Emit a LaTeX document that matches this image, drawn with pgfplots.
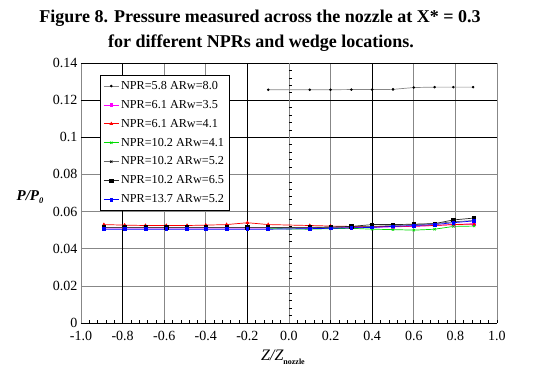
\documentclass[border=0pt]{standalone}
\usepackage{fontspec}
\setmainfont{Liberation Serif}
\usepackage{pgfplots}
\pgfplotsset{compat=1.18}
\definecolor{gridgray}{RGB}{135,135,135}
\definecolor{mag}{RGB}{255,0,255}
\definecolor{grn}{RGB}{0,220,0}
\begin{document}
\begin{tikzpicture}
\begin{axis}[
  name=ax, at={(0,0)}, anchor=south west,
  scale only axis, width=416pt, height=260pt,
  xmin=-1, xmax=1, ymin=0, ymax=0.14,
  axis lines*=left,
  x axis line style={black},
  y axis line style={gridgray},
  xtick={-1,-0.8,-0.6,-0.4,-0.2,0,0.2,0.4,0.6,0.8,1},
  xticklabels={-1.0,-0.8,-0.6,-0.4,-0.2,0.0,0.2,0.4,0.6,0.8,1.0},
  ytick={0,0.02,0.04,0.06,0.08,0.1,0.12,0.14},
  yticklabels={0,0.02,0.04,0.06,0.08,0.1,0.12,0.14},
  minor x tick num=4,
  tick align=inside,
  major tick length=3pt, minor tick length=3pt,
  xtick pos=left, ytick pos=left,
  ytick style={draw=none},
  tick style={black, line width=0.6pt},
  grid=major,
  major grid style={gridgray, line width=0.6pt},
  extra x ticks={-0.8,-0.2,0.4},
  extra x tick labels={},
  extra x tick style={grid=major, major grid style={black, line width=0.7pt}},
  extra y ticks={0.1,0.12,0.14},
  extra y tick labels={},
  extra y tick style={grid=major, major grid style={black, line width=0.7pt}},
  ticklabel style={font=\fontsize{14}{16}\selectfont},
  xticklabel style={yshift=-5pt},
  yticklabel style={xshift=0pt},
  legend style={at={(0.046,0.954)}, anchor=north west, draw=black, line width=0.6pt,
    font=\fontsize{12.2}{13}\selectfont, row sep=5.3pt, inner xsep=3pt, inner ysep=4pt,
    fill=white, cells={anchor=west}},
  legend image code/.code={\draw[#1] (0pt,0pt) -- (15pt,0pt); \draw[#1, mark repeat=2, mark phase=2] plot coordinates {(0pt,0pt) (7.5pt,0pt) (15pt,0pt)};},
]
\draw[gridgray, line width=0.6pt] (axis cs:0,0) -- (axis cs:0,0.14);
\pgfplotsinvokeforeach{0.004,0.008,0.012,0.016,0.024,0.028,0.032,0.036,0.044,0.048,0.052,0.056,0.064,0.068,0.072,0.076,0.084,0.088,0.092,0.096,0.104,0.108,0.112,0.116,0.124,0.128,0.132,0.136}{
  \draw[black, line width=0.6pt] (axis cs:0,#1) -- ++(3pt,0pt);
}
% NPR=5.8 ARw=8.0
\addplot[gridgray, line width=0.7pt, mark=*, mark size=0.9pt, mark options={black}] coordinates {
(-0.10,0.1256) (0.10,0.1256) (0.20,0.1256) (0.30,0.1257) (0.40,0.1257) (0.50,0.1258)
(0.60,0.1268) (0.70,0.1270) (0.79,0.1270) (0.885,0.1270)};
\addlegendentry{NPR=5.8 ARw=8.0}
% NPR=6.1 ARw=3.5
\addplot[mag, line width=0.7pt, mark=square*, mark size=1.3pt] coordinates {
(-0.89,0.0512) (-0.79,0.0512) (-0.69,0.0512) (-0.59,0.0512) (-0.49,0.0512) (-0.40,0.0512) (-0.30,0.0512) (-0.20,0.0512) (-0.10,0.0512)
(0.10,0.0512) (0.20,0.0512) (0.30,0.0514) (0.40,0.0515) (0.50,0.0518) (0.60,0.0520) (0.70,0.0525) (0.79,0.0530) (0.89,0.0535)};
\addlegendentry{NPR=6.1 ARw=3.5}
% NPR=6.1 ARw=4.1
\addplot[red, line width=0.7pt, mark=triangle*, mark size=1.5pt] coordinates {
(-0.89,0.0530) (-0.79,0.0527) (-0.69,0.0525) (-0.59,0.0525) (-0.49,0.0525) (-0.40,0.0527) (-0.30,0.0530) (-0.20,0.0540) (-0.10,0.0530)
(0.10,0.0525) (0.20,0.0522) (0.30,0.0520) (0.40,0.0520) (0.50,0.0520) (0.60,0.0522) (0.70,0.0525) (0.79,0.0530) (0.89,0.0532)};
\addlegendentry{NPR=6.1 ARw=4.1}
% NPR=10.2 ARw=4.1
\addplot[grn, line width=0.7pt, mark=x, mark size=1.6pt] coordinates {
(-0.10,0.0508) (0.10,0.0505) (0.20,0.0508) (0.30,0.0510) (0.40,0.0505) (0.50,0.0503) (0.60,0.0500) (0.70,0.0505) (0.79,0.0520) (0.89,0.0522)};
\addlegendentry{NPR=10.2 ARw=4.1}
% NPR=10.2 ARw=5.2
\addplot[black!60, line width=0.7pt, mark=x, mark size=1.6pt, mark options={black}] coordinates {
(-0.89,0.0515) (-0.79,0.0515) (-0.69,0.0515) (-0.59,0.0515) (-0.49,0.0515) (-0.40,0.0515) (-0.30,0.0515) (-0.20,0.0515) (-0.10,0.0515)
(0.10,0.0513) (0.20,0.0515) (0.30,0.0517) (0.40,0.0520) (0.50,0.0525) (0.60,0.0530) (0.70,0.0535) (0.79,0.0545) (0.89,0.0552)};
\addlegendentry{NPR=10.2 ARw=5.2}
% NPR=10.2 ARw=6.5
\addplot[black!85, line width=0.7pt, mark=square*, mark size=1.6pt, mark options={black}] coordinates {
(-0.89,0.0515) (-0.79,0.0515) (-0.69,0.0515) (-0.59,0.0515) (-0.49,0.0515) (-0.40,0.0515) (-0.30,0.0515) (-0.20,0.0515) (-0.10,0.0515)
(0.10,0.0515) (0.20,0.0517) (0.30,0.0520) (0.40,0.0530) (0.50,0.0530) (0.60,0.0532) (0.70,0.0535) (0.79,0.0555) (0.89,0.0565)};
\addlegendentry{NPR=10.2 ARw=6.5}
% NPR=13.7 ARw=5.2
\addplot[blue, line width=0.7pt, mark=square*, mark size=1.4pt] coordinates {
(-0.89,0.0505) (-0.79,0.0505) (-0.69,0.0505) (-0.59,0.0505) (-0.49,0.0505) (-0.40,0.0505) (-0.30,0.0505) (-0.20,0.0505) (-0.10,0.0505)
(0.10,0.0508) (0.20,0.0510) (0.30,0.0512) (0.40,0.0515) (0.50,0.0520) (0.60,0.0525) (0.70,0.0530) (0.79,0.0540) (0.89,0.0550)};
\addlegendentry{NPR=13.7 ARw=5.2}
\end{axis}
\path (-81pt,-53pt) rectangle (455pt,323pt);
\node[font=\fontsize{18}{20}\selectfont\bfseries] at (179pt,305pt) {Figure 8. Pressure measured across the nozzle at X* = 0.3};
\node[font=\fontsize{18}{20}\selectfont\bfseries] at (180pt,280pt) {for different NPRs and wedge locations.};
\node[font=\fontsize{15}{17}\selectfont\bfseries\itshape, inner sep=0pt] at (-51pt,126pt) {P/P\raisebox{-3pt}{\fontsize{8.5}{9}\selectfont 0}};
\node[font=\fontsize{16}{18}\selectfont\itshape, inner sep=0pt] at (202pt,-34pt) {Z/Z\raisebox{-4pt}{\upshape\bfseries\fontsize{8}{9}\selectfont nozzle}};
\end{tikzpicture}
\end{document}
